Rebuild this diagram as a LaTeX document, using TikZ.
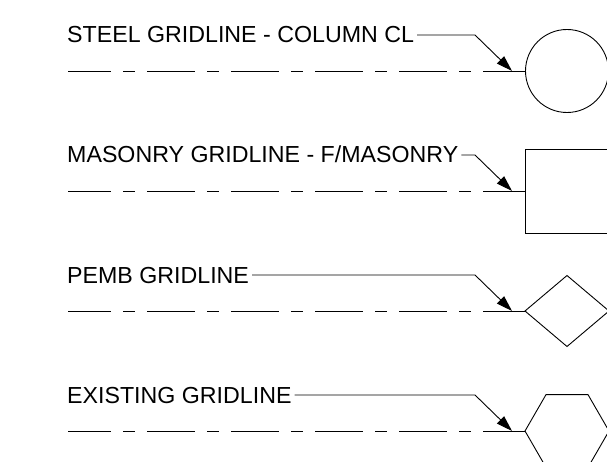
\documentclass[tikz,border=0pt]{standalone}
\usepackage{fontspec}
\setmainfont{Liberation Sans}
\usetikzlibrary{shapes.geometric,arrows.meta}
\begin{document}
\begin{tikzpicture}[x=1pt,y=-1pt,
  lbl/.style={anchor=base west,inner sep=0pt,font=\fontsize{23.2}{28}\selectfont},
  leader/.style={line width=0.9pt,-{Triangle[length=16pt,width=10pt]}},
  gridline/.style={line width=0.9pt,dash pattern=on 48pt off 12pt on 12pt off 12pt,dash phase=5pt},
  solidline/.style={line width=0.9pt},
  gshape/.style={draw,line width=0.9pt,inner sep=0pt,outer sep=0pt}]
\clip (0,0) rectangle (607,462);
\fill[white] (0,0) rectangle (607,462);
% Row 1
\node[lbl] (t1) at (67,43) {STEEL GRIDLINE - COLUMN CL};
\coordinate (h1) at (475,35);
\coordinate (k1) at (512,71);
\coordinate (s1) at (68,71);
\node[gshape,circle,minimum size=83pt] (c1) at (567,71) {};
\draw[leader] ([xshift=3pt]t1.east |- h1) -- (h1) -- (k1);
\draw[gridline] (s1) -- (k1);
\draw[solidline] (k1) -- (c1.west);
% Row 2
\node[lbl] (t2) at (67,163) {MASONRY GRIDLINE - F/MASONRY};
\coordinate (h2) at (475,155);
\coordinate (k2) at (512,191);
\coordinate (s2) at (68,191);
\node[gshape,rectangle,minimum width=84pt,minimum height=84pt] (c2) at (567,191) {};
\draw[leader] ([xshift=3pt]t2.east |- h2) -- (h2) -- (k2);
\draw[gridline] (s2) -- (k2);
\draw[solidline] (k2) -- (c2.west);
% Row 3
\node[lbl] (t3) at (67,283) {PEMB GRIDLINE};
\coordinate (h3) at (475,275);
\coordinate (k3) at (512,311);
\coordinate (s3) at (68,311);
\node[gshape,diamond,minimum width=84pt,minimum height=71pt] (c3) at (567,311) {};
\draw[leader] ([xshift=3pt]t3.east |- h3) -- (h3) -- (k3);
\draw[gridline] (s3) -- (k3);
\draw[solidline] (k3) -- (c3.west);
% Row 4
\node[lbl] (t4) at (67,403) {EXISTING GRIDLINE};
\coordinate (h4) at (475,395);
\coordinate (k4) at (512,431);
\coordinate (s4) at (68,431);
\node[gshape,regular polygon,regular polygon sides=6,minimum size=84pt] (c4) at (567,431) {};
\draw[leader] ([xshift=3pt]t4.east |- h4) -- (h4) -- (k4);
\draw[gridline] (s4) -- (k4);
\draw[solidline] (k4) -- (c4.west);
\end{tikzpicture}
\end{document}
